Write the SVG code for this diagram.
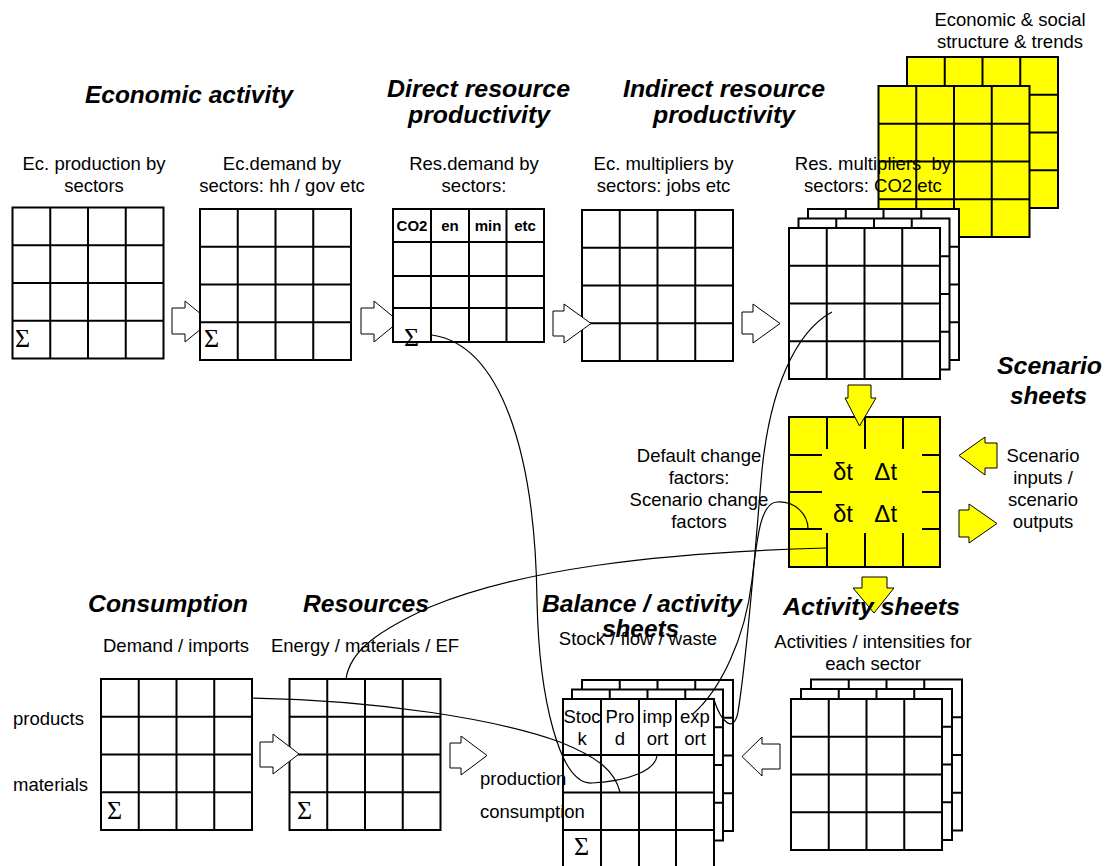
<svg xmlns="http://www.w3.org/2000/svg" width="1105" height="866" viewBox="0 0 1105 866">
<style>
.cap{font-family:"Liberation Sans",Arial,sans-serif;font-size:18.5px;text-anchor:middle;fill:#000}
.lft{font-family:"Liberation Sans",Arial,sans-serif;font-size:18.5px;fill:#000}
.ttl{font-family:"Liberation Sans",Arial,sans-serif;font-size:23px;font-weight:bold;font-style:italic;fill:#000}
.hdr{font-family:"Liberation Sans",Arial,sans-serif;font-size:15px;font-weight:bold;text-anchor:middle;fill:#000}
.sig{font-family:"Liberation Serif","Times New Roman",serif;font-size:26px;fill:#000}
.dt{font-family:"Liberation Sans",Arial,sans-serif;font-size:24px;word-spacing:4px;fill:#000}
.ln{stroke:#000;stroke-width:2;fill:none}
.bx{stroke:#000;stroke-width:2}
.arw{fill:#fff;stroke:#000;stroke-width:1}
.yarw{fill:#ffff00;stroke:#000;stroke-width:1}
.crv{fill:none;stroke:#000;stroke-width:1.2}
</style>
<defs>
<g id="grid" stroke="#000" stroke-width="2">
<rect x="0" y="0" width="151" height="151"/>
<path fill="none" d="M37.75 0V151M75.5 0V151M113.25 0V151M0 37.75H151M0 75.5H151M0 113.25H151"/>
</g>
</defs>

<g id="node-economic-structure">
<text class="cap" x="1010" y="26">Economic &amp; social</text>
<text class="cap" x="1010" y="48">structure &amp; trends</text>
<use href="#grid" x="907" y="57" fill="#ffff00"/>
<use href="#grid" x="878.5" y="86" fill="#ffff00"/>
</g>

<g id="node-ec-production">
<text class="cap" x="94" y="170">Ec. production by</text>
<text class="cap" x="94" y="192">sectors</text>
<use href="#grid" x="12.5" y="207.5" fill="#fff"/>
<text class="sig" x="15" y="347">Σ</text>
</g>

<g id="node-ec-demand">
<text class="cap" x="282" y="170">Ec.demand by</text>
<text class="cap" x="282" y="192">sectors: hh / gov etc</text>
<polygon class="arw" points="172,308 185,308 185,301 200,313.3 200,329.7 185,342 185,334 172,334"/>
<use href="#grid" x="200" y="209" fill="#fff"/>
<text class="sig" x="204" y="347">Σ</text>
</g>

<g id="node-res-demand">
<text class="cap" x="474" y="170">Res.demand by</text>
<text class="cap" x="474" y="192">sectors:</text>
<polygon class="arw" points="361,308 374,308 374,301 393,316.6 393,326.4 374,342 374,334 361,334"/>
<rect class="bx" x="393" y="209" width="151" height="133" fill="#fff"/>
<path class="ln" d="M431 209V342M469 209V342M506.5 209V342M393 242H544M393 276H544M393 308H544"/>
<text class="hdr" x="412" y="231">CO2</text>
<text class="hdr" x="450" y="231">en</text>
<text class="hdr" x="488" y="231">min</text>
<text class="hdr" x="525" y="231">etc</text>
<text class="sig" x="404" y="346">Σ</text>
</g>

<g id="node-ec-multipliers">
<text class="cap" x="663.5" y="170">Ec. multipliers by</text>
<text class="cap" x="663.5" y="192">sectors: jobs etc</text>
<use href="#grid" x="582" y="210" fill="#fff"/>
</g>

<g id="node-res-multipliers">
<text class="cap" x="873" y="170" xml:space="preserve">Res. multipliers  by</text>
<text class="cap" x="873" y="192">sectors: CO2 etc</text>
<use href="#grid" x="808" y="209" fill="#fff"/>
<use href="#grid" x="798.5" y="218.5" fill="#fff"/>
<use href="#grid" x="789" y="228" fill="#fff"/>
</g>

<g id="node-scenario">
<rect class="bx" x="789" y="417" width="151" height="150" fill="#ffff00"/>
<path class="ln" d="M827 417V449M865 417V449M903 417V449M827 533V567M865 533V567M903 533V567M789 455H822M789 492H822M789 529H822M922 455H940M922 492H940M922 529H940"/>
<text class="dt" x="833" y="480" xml:space="preserve">δt  Δt</text>
<text class="dt" x="833" y="522" xml:space="preserve">δt  Δt</text>
<text class="cap" x="699" y="462">Default change</text>
<text class="cap" x="699" y="484">factors:</text>
<text class="cap" x="699" y="506">Scenario change</text>
<text class="cap" x="699" y="528">factors</text>
<text class="cap" x="1043" y="462">Scenario</text>
<text class="cap" x="1043" y="484">inputs /</text>
<text class="cap" x="1043" y="506">scenario</text>
<text class="cap" x="1043" y="528">outputs</text>
</g>

<g id="node-consumption">
<text class="cap" x="176" y="652">Demand / imports</text>
<text class="lft" x="13" y="725">products</text>
<text class="lft" x="13" y="791">materials</text>
<use href="#grid" x="101" y="679" fill="#fff"/>
<text class="sig" x="107" y="819">Σ</text>
</g>

<g id="node-resources">
<text class="cap" x="365" y="652">Energy / materials / EF</text>
<use href="#grid" x="289.5" y="679" fill="#fff"/>
<text class="sig" x="297" y="819">Σ</text>
</g>

<g id="node-balance">
<text class="cap" x="638" y="645">Stock / flow / waste</text>
<use href="#grid" x="582" y="680" fill="#fff"/>
<use href="#grid" x="572" y="689.5" fill="#fff"/>
<rect class="bx" x="563" y="699" width="151" height="170" fill="#fff"/>
<path class="ln" d="M601 699V869M639 699V869M676 699V869M563 755H714M563 792.5H714M563 830H714"/>
<text class="cap" x="582" y="723">Stoc</text>
<text class="cap" x="582" y="745">k</text>
<text class="cap" x="620" y="723">Pro</text>
<text class="cap" x="620" y="745">d</text>
<text class="cap" x="657.5" y="723">imp</text>
<text class="cap" x="657.5" y="745">ort</text>
<text class="cap" x="695" y="723">exp</text>
<text class="cap" x="695" y="745">ort</text>
<text class="sig" x="574" y="855">Σ</text>
<text class="lft" x="480" y="785">production</text>
<text class="lft" x="480" y="818">consumption</text>
</g>

<g id="node-activity">
<text class="cap" x="873" y="648">Activities / intensities for</text>
<text class="cap" x="873" y="670">each sector</text>
<use href="#grid" x="811" y="679.5" fill="#fff"/>
<use href="#grid" x="801" y="689" fill="#fff"/>
<use href="#grid" x="791" y="699" fill="#fff"/>
</g>

<g id="connectors">
<polygon class="arw" points="553,311 564,311 564,304 591,323.5 564,343 564,336 553,336"/>
<polygon class="arw" points="742,312 753,312 753,304 780,323.5 753,343 753,334 742,334"/>
<polygon class="arw" points="260,742 273,742 273,734 299,754 273,774 273,767 260,767"/>
<polygon class="arw" points="450,743 461,743 461,736 487,755.5 461,775 461,768 450,768"/>
<polygon class="arw" points="780,744 762,744 762,737 742,756.5 762,776 762,769 780,769"/>
<polygon class="yarw" points="848,385 871,385 871,398 876,398 859.5,426 845,398 848,398"/>
<polygon class="yarw" points="862,577 887,577 887,588 894,588 874,613 853,588 862,588"/>
<polygon class="yarw" points="997,443 985,443 985,437 959,455.5 985,475 985,468 997,468"/>
<polygon class="yarw" points="959,510 969,510 969,504 997,523.5 969,543 969,537 959,537"/>
<path class="crv" d="M432,335 C500,345 535,450 537,600 C539,700 560,785 592,783 C630,781 655,770 657,756"/>
<path class="crv" d="M832,312 C795,332 770,390 762,470 C755,550 748,650 738,712 C734,733 722,724 714,700"/>
<path class="crv" d="M693,714 C720,690 745,640 752,580 C757,540 760,503 777,502 C796,501 808,515 808,529"/>
<path class="crv" d="M252,698 C380,700 500,720 560,742 C600,758 615,772 620,792"/>
<path class="crv" d="M346,679 C350,650 380,630 430,607 C520,570 650,553 826,548"/>
</g>

<g id="titles">
<text class="ttl" x="85" y="103" textLength="208" lengthAdjust="spacingAndGlyphs">Economic activity</text>
<text class="ttl" x="387" y="97" textLength="183" lengthAdjust="spacingAndGlyphs">Direct resource</text>
<text class="ttl" x="408" y="123" textLength="142" lengthAdjust="spacingAndGlyphs">productivity</text>
<text class="ttl" x="623" y="97" textLength="202" lengthAdjust="spacingAndGlyphs">Indirect resource</text>
<text class="ttl" x="653" y="123" textLength="142" lengthAdjust="spacingAndGlyphs">productivity</text>
<text class="ttl" x="997" y="374" textLength="105" lengthAdjust="spacingAndGlyphs">Scenario</text>
<text class="ttl" x="1010" y="404" textLength="77" lengthAdjust="spacingAndGlyphs">sheets</text>
<text class="ttl" x="88" y="612" textLength="160" lengthAdjust="spacingAndGlyphs">Consumption</text>
<text class="ttl" x="303" y="612" textLength="126" lengthAdjust="spacingAndGlyphs">Resources</text>
<text class="ttl" x="542" y="612" textLength="200" lengthAdjust="spacingAndGlyphs">Balance / activity</text>
<text class="ttl" x="602" y="637" textLength="77" lengthAdjust="spacingAndGlyphs">sheets</text>
<text class="ttl" x="783" y="615" textLength="177" lengthAdjust="spacingAndGlyphs">Activity sheets</text>
</g>
</svg>
